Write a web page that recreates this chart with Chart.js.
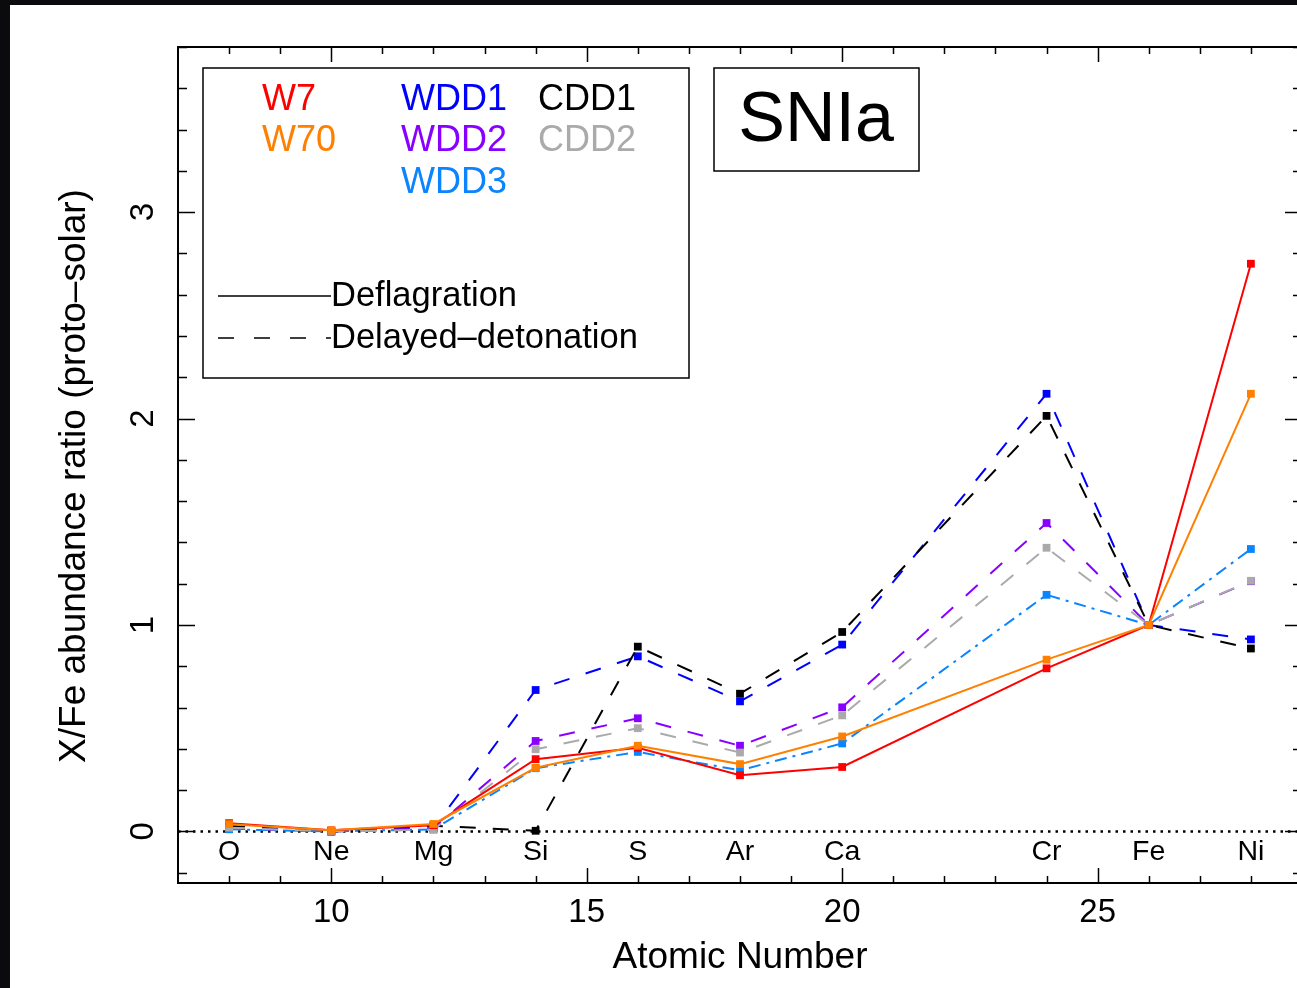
<!DOCTYPE html>
<html><head><meta charset="utf-8">
<script src="https://cdn.jsdelivr.net/npm/chart.js@4"></script>
<style>
html,body{margin:0;padding:0;overflow:hidden;background:#0b0b0e;width:1297px;height:988px;}
#wrap{position:absolute;left:10px;top:5px;width:1300px;height:983px;background:#fff;}
canvas{display:block;}
</style></head><body>
<div id="wrap"><canvas id="c" width="1300" height="983"></canvas></div>
<script>
// ---- data ----
const elements = ['O','Ne','Mg','Si','S','Ar','Ca','Cr','Fe','Ni'];
const atomicNumber = [8,10,12,14,16,18,20,24,26,28];
const W7   = [0.040, 0.005, 0.030, 0.350, 0.405, 0.272, 0.312, 0.790, 1.0, 2.750];
const W70  = [0.035, 0.005, 0.036, 0.308, 0.415, 0.326, 0.460, 0.832, 1.0, 2.120];
const WDD1 = [0.015, 0.000, 0.015, 0.685, 0.848, 0.630, 0.905, 2.120, 1.0, 0.930];
const WDD2 = [0.015, 0.000, 0.015, 0.438, 0.548, 0.415, 0.601, 1.494, 1.0, 1.212];
const WDD3 = [0.010, 0.000, 0.010, 0.306, 0.385, 0.296, 0.426, 1.146, 1.0, 1.368];
const CDD1 = [0.026, 0.000, 0.027, 0.003, 0.895, 0.667, 0.966, 2.013, 1.0, 0.886];
const CDD2 = [0.018, 0.000, 0.008, 0.398, 0.500, 0.382, 0.562, 1.374, 1.0, 1.214];
const xTicks = [10,15,20,25];
const yTicks = [0,1,2,3];
const xTitle = 'Atomic Number';
const yTitle = 'X/Fe abundance ratio (proto\u2013solar)';
const panelLabel = 'SNIa';
const lineTypeLabels = ['Deflagration','Delayed\u2013detonation'];

// ---- styles ----
const FONT = '"Liberation Sans", Arial, Helvetica, sans-serif';
const DASH = [16,17];
const DASHDOT = [12,6,3,6];
const series = [
  {name:'W70',  vals:W70,  color:'#ff8000', dash:[]},
  {name:'W7',   vals:W7,   color:'#ff0000', dash:[]},
  {name:'CDD2', vals:CDD2, color:'#aaaaaa', dash:DASH},
  {name:'WDD3', vals:WDD3, color:'#0a84ff', dash:DASHDOT},
  {name:'WDD2', vals:WDD2, color:'#8800ff', dash:DASH},
  {name:'CDD1', vals:CDD1, color:'#000000', dash:DASH},
  {name:'WDD1', vals:WDD1, color:'#0000ff', dash:DASH}
];

const datasets = series.map(s => ({
  label: s.name,
  data: atomicNumber.map((z,i) => ({x:z, y:s.vals[i]})),
  borderColor: s.color,
  backgroundColor: s.color,
  borderWidth: 2,
  borderDash: s.dash,
  pointStyle: 'rect',
  pointRadius: 5.5,
  pointBorderWidth: 0,
  pointBackgroundColor: s.color,
  tension: 0,
  fill: false
}));

const legendItems = [
  {t:'W7',   c:'#ff0000', col:0, row:0},
  {t:'W70',  c:'#ff8000', col:0, row:1},
  {t:'WDD1', c:'#0000ff', col:1, row:0},
  {t:'WDD2', c:'#8800ff', col:1, row:1},
  {t:'WDD3', c:'#0a84ff', col:1, row:2},
  {t:'CDD1', c:'#000000', col:2, row:0},
  {t:'CDD2', c:'#aaaaaa', col:2, row:1}
];

const decor = {
  id: 'decor',
  beforeDatasetsDraw(chart) {
    const {ctx, chartArea: ca, scales: {y}} = chart;
    const y0 = y.getPixelForValue(0);
    ctx.save();
    ctx.beginPath(); ctx.rect(ca.left, ca.top, ca.width, ca.height); ctx.clip();
    ctx.setLineDash([2.5, 5]); ctx.lineWidth = 2.5; ctx.strokeStyle = '#000';
    ctx.beginPath(); ctx.moveTo(ca.left, y0); ctx.lineTo(ca.right, y0); ctx.stroke();
    ctx.restore();
  },
  afterDraw(chart) {
    const {ctx, chartArea: ca, scales: {x, y}} = chart;
    ctx.save();
    ctx.setLineDash([]);
    ctx.strokeStyle = '#000';
    ctx.fillStyle = '#000';
    // ticks
    ctx.lineWidth = 1.5;
    ctx.beginPath();
    for (let z = Math.ceil(x.min); z <= x.max; z++) {
      if (z === x.min || z === x.max) continue;
      const px = Math.round(x.getPixelForValue(z)) + 0.5;
      const len = (z % 5 === 0) ? 15 : 7;
      ctx.moveTo(px, ca.bottom); ctx.lineTo(px, ca.bottom - len);
      ctx.moveTo(px, ca.top); ctx.lineTo(px, ca.top + len);
    }
    for (let k = Math.ceil(y.min / 0.2); k * 0.2 <= y.max + 1e-9; k++) {
      const v = k * 0.2;
      const py = Math.round(y.getPixelForValue(v)) + 0.5;
      const major = Math.abs(v - Math.round(v)) < 1e-6;
      const len = major ? 17 : 9;
      ctx.moveTo(ca.left, py); ctx.lineTo(ca.left + len, py);
      ctx.moveTo(ca.right, py); ctx.lineTo(ca.right - len, py);
    }
    ctx.stroke();
    // frame
    ctx.lineWidth = 2;
    ctx.strokeRect(ca.left, ca.top, ca.width, ca.height);

    // y tick labels (rotated)
    ctx.font = '33px ' + FONT;
    ctx.textAlign = 'center'; ctx.textBaseline = 'middle';
    yTicks.forEach(v => {
      ctx.save();
      ctx.translate(ca.left - 34, y.getPixelForValue(v));
      ctx.rotate(-Math.PI / 2);
      ctx.fillText(String(v), 0, 0);
      ctx.restore();
    });
    // y title
    ctx.save();
    ctx.font = '37px ' + FONT;
    ctx.translate(65, (ca.top + ca.bottom) / 2 + 11);
    ctx.rotate(-Math.PI / 2);
    ctx.fillText(yTitle, 0, 0);
    ctx.restore();

    // element labels
    ctx.font = '28.5px ' + FONT;
    const y0 = y.getPixelForValue(0);
    elements.forEach((el, i) => {
      ctx.fillText(el, x.getPixelForValue(atomicNumber[i]), y0 + 21);
    });

    // legend box
    const lx = ca.left + 25, ly = ca.top + 21;
    ctx.lineWidth = 1.5;
    ctx.strokeRect(lx, ly, 486, 310);
    ctx.textAlign = 'left';
    ctx.font = '36px ' + FONT;
    const colX = [59, 198, 335];
    legendItems.forEach(it => {
      ctx.fillStyle = it.c;
      ctx.fillText(it.t, lx + colX[it.col], ly + 32 + it.row * 41.5);
    });
    ctx.fillStyle = '#000';
    ctx.font = '34.5px ' + FONT;
    const l1 = ly + 228, l2 = ly + 270;
    ctx.lineWidth = 1.5;
    ctx.beginPath(); ctx.moveTo(lx + 15, l1); ctx.lineTo(lx + 128, l1); ctx.stroke();
    ctx.setLineDash([16, 20]);
    ctx.beginPath(); ctx.moveTo(lx + 15, l2); ctx.lineTo(lx + 128, l2); ctx.stroke();
    ctx.setLineDash([]);
    ctx.fillText(lineTypeLabels[0], lx + 128, l1);
    ctx.fillText(lineTypeLabels[1], lx + 128, l2);

    // SNIa box
    const sx = ca.left + 536, sy = ca.top + 21;
    ctx.lineWidth = 1.5;
    ctx.strokeRect(sx, sy, 205, 103);
    ctx.font = '70px ' + FONT;
    ctx.textAlign = 'center';
    ctx.fillText(panelLabel, sx + 102, sy + 54);
    ctx.restore();
  }
};

new Chart(document.getElementById('c'), {
  type: 'line',
  data: { datasets },
  options: {
    responsive: false,
    animation: false,
    devicePixelRatio: 1,
    layout: { padding: { left: 0, top: 42, right: 8, bottom: 0 } },
    plugins: { legend: { display: false }, title: { display: false }, tooltip: { enabled: false } },
    scales: {
      x: {
        type: 'linear', position: 'bottom', min: 7, max: 29,
        grid: { display: false, drawTicks: false },
        border: { display: false },
        afterBuildTicks: s => { s.ticks = xTicks.map(v => ({ value: v })); },
        afterFit: s => { s.height = 105; },
        ticks: { color: '#000', font: { family: FONT, size: 33 }, padding: 10, maxRotation: 0, autoSkip: false },
        title: { display: true, text: xTitle, color: '#000', font: { family: FONT, size: 37 }, padding: { top: 0, bottom: 8 } }
      },
      y: {
        type: 'linear', min: -0.25, max: 3.8,
        grid: { display: false, drawTicks: false },
        border: { display: false },
        afterFit: s => { s.width = 168; },
        ticks: { display: false },
        title: { display: false }
      }
    }
  },
  plugins: [decor]
});
</script>
</body></html>
